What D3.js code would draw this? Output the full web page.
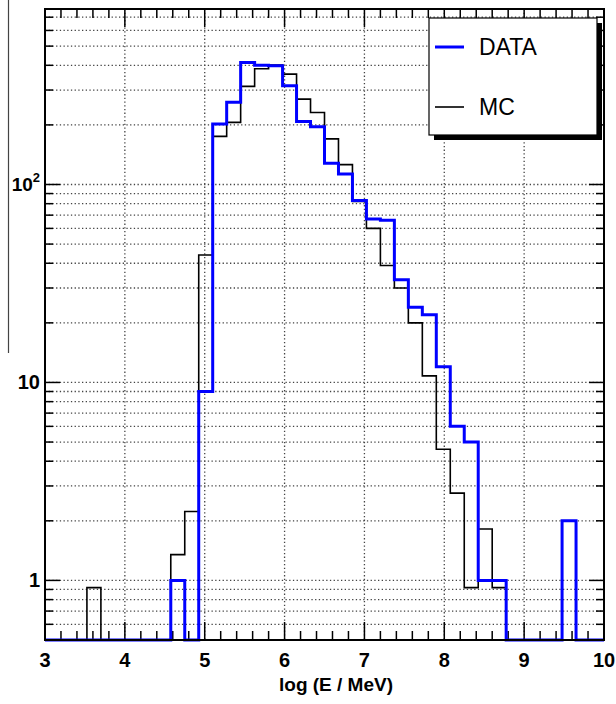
<!DOCTYPE html>
<html>
<head>
<meta charset="utf-8">
<script src="https://cdn.jsdelivr.net/npm/d3@7"></script>
<style>
  body { margin: 0; background: #fff; }
  svg text { font-family: "Liberation Sans", Arial, sans-serif; }
</style>
</head>
<body>
<div id="chart"></div>
<script>
// 40 bins from 3 to 10 in log(E/MeV)
const xMin = 3, xMax = 10, nBins = 40
const xMajor = [3, 4, 5, 6, 7, 8, 9, 10]
const yLabels = [{v: 1, t: "1"}, {v: 10, t: "10"}]

// DATA (blue), counts per bin; 0 = empty bin
const dataCounts = [0, 0, 0, 0, 0, 0, 0, 0, 0, 1,
                    0, 9, 202, 260, 413, 400, 398, 315, 208, 196,
                    128, 113, 83, 67, 66, 33, 24, 22, 12, 6,
                    5, 1, 1, 0, 0, 0, 0, 2, 0, 0]
// MC (black), normalised
const mcCounts = [0, 0, 0, 0.92, 0, 0, 0, 0, 0, 1.35,
                  2.23, 44, 175, 206, 313, 384, 401, 361, 270, 231,
                  170, 126, 82, 60, 39, 30, 20, 10.8, 4.6, 2.76,
                  0.92, 1.82, 0.92, 0, 0, 0, 0, 0, 0, 0]

const W = 616, H = 704
const pl = 45, pr = 604, pt = 9, pb = 640

const svg = d3.select("#chart").append("svg")
    .attr("width", W).attr("height", H)

const x = d3.scaleLinear().domain([xMin, xMax]).range([pl, pr])
const y = d3.scaleLog().domain([0.5, 770]).range([pb, pt]).clamp(true)

// stray vertical line at the far left of the figure
svg.append("line")
    .attr("x1", 8.5).attr("x2", 8.5).attr("y1", 0).attr("y2", 353)
    .attr("stroke", "#444").attr("stroke-width", 1.2)

// log ticks: 0.6 ... 700
let yTicks = []
for (let dec of [0.1, 1, 10, 100]) {
    for (let k = 1; k <= 9; k++) {
        const v = +(k * dec).toPrecision(3)
        if (v > 0.5 && v < 770) yTicks.push(v)
    }
}
const xMinor = d3.range(0, 36).map(i => +(xMin + i * 0.2).toFixed(2))

// dotted grid
const grid = svg.append("g")
    .attr("stroke", "#444").attr("stroke-width", 1.3)
    .attr("stroke-dasharray", "1.3,2.4")
grid.selectAll(".gy").data(yTicks).join("line")
    .attr("x1", pl).attr("x2", pr)
    .attr("y1", d => y(d)).attr("y2", d => y(d))
grid.selectAll(".gx").data(xMajor.slice(1, -1)).join("line")
    .attr("x1", d => x(d)).attr("x2", d => x(d))
    .attr("y1", pt).attr("y2", pb)

// ticks on all four sides
const ticks = svg.append("g").attr("stroke", "#000").attr("stroke-width", 1.5)
const isMajorY = v => v === 1 || v === 10 || v === 100
ticks.selectAll(".tl").data(yTicks).join("line")
    .attr("x1", pl).attr("x2", d => pl + (isMajorY(d) ? 15 : 8))
    .attr("y1", d => y(d)).attr("y2", d => y(d))
ticks.selectAll(".tr").data(yTicks).join("line")
    .attr("x1", pr).attr("x2", d => pr - (isMajorY(d) ? 15 : 8))
    .attr("y1", d => y(d)).attr("y2", d => y(d))
const isMajorX = v => Math.abs(v - Math.round(v)) < 1e-6
ticks.selectAll(".tb").data(xMinor).join("line")
    .attr("x1", d => x(d)).attr("x2", d => x(d))
    .attr("y1", pb).attr("y2", d => pb - (isMajorX(d) ? 18 : 9))
ticks.selectAll(".tt").data(xMinor).join("line")
    .attr("x1", d => x(d)).attr("x2", d => x(d))
    .attr("y1", pt).attr("y2", d => pt + (isMajorX(d) ? 18 : 9))

// histograms as step outlines
function histPath(counts) {
    const pts = counts.map((c, i) => [xMin + i * (xMax - xMin) / nBins, c])
    pts.push([xMax, counts[counts.length - 1]])
    pts.unshift([xMin, 0])
    return d3.line()
        .x(d => x(d[0]))
        .y(d => d[1] > 0 ? y(d[1]) : pb)
        .curve(d3.curveStepAfter)(pts)
}
svg.append("path").attr("d", histPath(mcCounts))
    .attr("fill", "none").attr("stroke", "#000").attr("stroke-width", 1.6)
svg.append("path").attr("d", histPath(dataCounts))
    .attr("fill", "none").attr("stroke", "#0000ff").attr("stroke-width", 3)

// frame
svg.append("rect")
    .attr("x", pl).attr("y", pt)
    .attr("width", pr - pl).attr("height", pb - pt)
    .attr("fill", "none").attr("stroke", "#000").attr("stroke-width", 2)

// tick labels
svg.selectAll(".xl").data(xMajor).join("text")
    .attr("x", d => x(d)).attr("y", 667)
    .attr("text-anchor", "middle")
    .attr("font-size", 20).attr("font-weight", "bold")
    .text(d => d)
svg.selectAll(".yl").data(yLabels).join("text")
    .attr("x", 40).attr("y", d => y(d.v) + 7)
    .attr("text-anchor", "end")
    .attr("font-size", 20).attr("font-weight", "bold")
    .text(d => d.t)
const sup = svg.append("text")
    .attr("x", 40).attr("y", y(100) + 7)
    .attr("text-anchor", "end")
    .attr("font-size", 19).attr("font-weight", "bold")
sup.append("tspan").text("10")
sup.append("tspan").attr("dy", -9).attr("font-size", 13).text("2")

// axis title
svg.append("text")
    .attr("x", 393).attr("y", 691)
    .attr("text-anchor", "end")
    .attr("font-size", 19).attr("font-weight", "bold")
    .text("log (E / MeV)")

// legend with drop shadow
const legend = svg.append("g")
legend.append("rect")
    .attr("x", 434).attr("y", 23).attr("width", 168).attr("height", 117)
    .attr("fill", "#000")
legend.append("rect")
    .attr("x", 429).attr("y", 18).attr("width", 168).attr("height", 117)
    .attr("fill", "#fff").attr("stroke", "#000").attr("stroke-width", 1.2)
const entries = [
    {name: "DATA", color: "#0000ff", w: 3, y: 47},
    {name: "MC", color: "#000", w: 1.6, y: 107}
]
legend.selectAll(".ll").data(entries).join("line")
    .attr("x1", 435).attr("x2", 464)
    .attr("y1", d => d.y).attr("y2", d => d.y)
    .attr("stroke", d => d.color).attr("stroke-width", d => d.w)
legend.selectAll(".lt").data(entries).join("text")
    .attr("x", 479).attr("y", d => d.y + 8)
    .attr("font-size", 23)
    .text(d => d.name)
</script>
</body>
</html>
